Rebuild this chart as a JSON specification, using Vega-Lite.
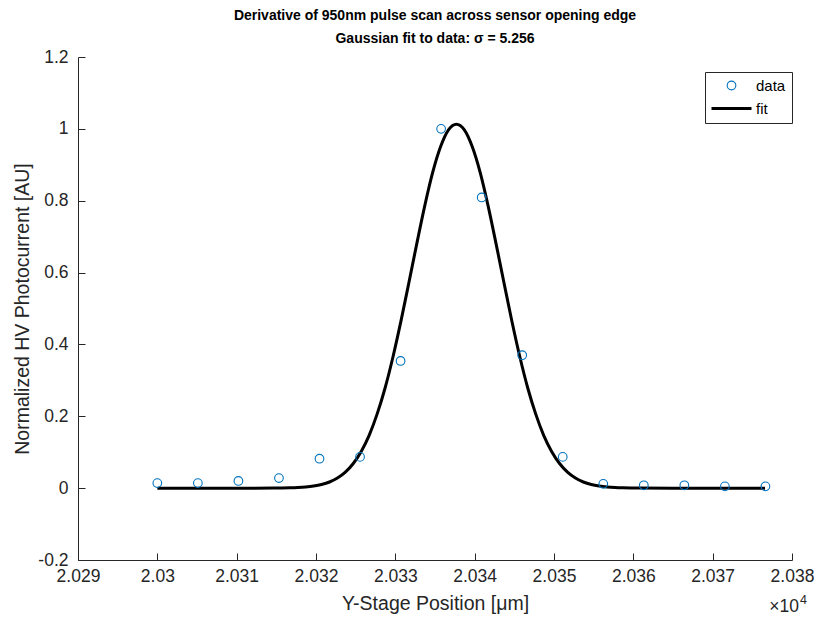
{
  "$schema": "https://vega.github.io/schema/vega-lite/v6.json",
  "width": 714,
  "height": 503,
  "autosize": {"type": "none"},
  "padding": {"left": 78, "top": 57, "right": 40, "bottom": 59},
  "background": "white",
  "config": {
    "view": {"stroke": null},
    "font": "Liberation Sans",
    "axis": {
      "domainColor": "#262626",
      "tickColor": "#262626",
      "labelColor": "#262626",
      "titleColor": "#262626",
      "labelFont": "Liberation Sans",
      "titleFont": "Liberation Sans",
      "labelFontSize": 17.5,
      "titleFontSize": 19.5,
      "titleFontWeight": "normal",
      "grid": false,
      "tickSize": -7,
      "domainWidth": 1,
      "tickWidth": 1
    },
    "legend": {
      "title": null,
      "orient": "none",
      "legendX": 627,
      "legendY": 15,
      "strokeColor": "#262626",
      "fillColor": "white",
      "padding": 6,
      "labelFontSize": 15,
      "labelColor": "#000000",
      "labelFont": "Liberation Sans",
      "rowPadding": 7,
      "symbolOffset": 13,
      "labelOffset": 17
    }
  },
  "title": {
    "text": ["Derivative of 950nm pulse scan across sensor opening edge", "Gaussian fit to data: σ = 5.256"],
    "fontSize": 14,
    "fontWeight": "bold",
    "font": "Liberation Sans",
    "color": "#000000",
    "anchor": "middle",
    "lineHeight": 23,
    "offset": 2
  },
  "datasets": {
    "fit": [
      {"x": 20300, "y": 0, "series": "fit"},
      {"x": 20310, "y": 0, "series": "fit"},
      {"x": 20314.7, "y": 0.0002, "series": "fit"},
      {"x": 20315.7, "y": 0.0005, "series": "fit"},
      {"x": 20316.7, "y": 0.0009, "series": "fit"},
      {"x": 20317.7, "y": 0.0017, "series": "fit"},
      {"x": 20318.7, "y": 0.0032, "series": "fit"},
      {"x": 20319.7, "y": 0.0058, "series": "fit"},
      {"x": 20320.7, "y": 0.0101, "series": "fit"},
      {"x": 20321.7, "y": 0.0171, "series": "fit"},
      {"x": 20322.7, "y": 0.028, "series": "fit"},
      {"x": 20323.7, "y": 0.0445, "series": "fit"},
      {"x": 20324.7, "y": 0.0685, "series": "fit"},
      {"x": 20325.7, "y": 0.102, "series": "fit"},
      {"x": 20326.7, "y": 0.147, "series": "fit"},
      {"x": 20327.7, "y": 0.206, "series": "fit"},
      {"x": 20328.7, "y": 0.278, "series": "fit"},
      {"x": 20329.7, "y": 0.365, "series": "fit"},
      {"x": 20330.7, "y": 0.464, "series": "fit"},
      {"x": 20331.7, "y": 0.571, "series": "fit"},
      {"x": 20332.7, "y": 0.68, "series": "fit"},
      {"x": 20333.7, "y": 0.785, "series": "fit"},
      {"x": 20334.7, "y": 0.878, "series": "fit"},
      {"x": 20335.7, "y": 0.95, "series": "fit"},
      {"x": 20336.7, "y": 0.997, "series": "fit"},
      {"x": 20337.7, "y": 1.013, "series": "fit"},
      {"x": 20338.7, "y": 0.997, "series": "fit"},
      {"x": 20339.7, "y": 0.95, "series": "fit"},
      {"x": 20340.7, "y": 0.878, "series": "fit"},
      {"x": 20341.7, "y": 0.785, "series": "fit"},
      {"x": 20342.7, "y": 0.68, "series": "fit"},
      {"x": 20343.7, "y": 0.571, "series": "fit"},
      {"x": 20344.7, "y": 0.464, "series": "fit"},
      {"x": 20345.7, "y": 0.365, "series": "fit"},
      {"x": 20346.7, "y": 0.278, "series": "fit"},
      {"x": 20347.7, "y": 0.206, "series": "fit"},
      {"x": 20348.7, "y": 0.147, "series": "fit"},
      {"x": 20349.7, "y": 0.102, "series": "fit"},
      {"x": 20350.7, "y": 0.0685, "series": "fit"},
      {"x": 20351.7, "y": 0.0445, "series": "fit"},
      {"x": 20352.7, "y": 0.028, "series": "fit"},
      {"x": 20353.7, "y": 0.0171, "series": "fit"},
      {"x": 20354.7, "y": 0.0101, "series": "fit"},
      {"x": 20355.7, "y": 0.0058, "series": "fit"},
      {"x": 20356.7, "y": 0.0032, "series": "fit"},
      {"x": 20357.7, "y": 0.0017, "series": "fit"},
      {"x": 20358.7, "y": 0.0009, "series": "fit"},
      {"x": 20359.7, "y": 0.0005, "series": "fit"},
      {"x": 20360.7, "y": 0.0002, "series": "fit"},
      {"x": 20365, "y": 0, "series": "fit"},
      {"x": 20370, "y": 0, "series": "fit"},
      {"x": 20376.6, "y": 0, "series": "fit"}
    ],
    "data": [
      {"x": 20300, "y": 0.014, "series": "data"},
      {"x": 20305.11, "y": 0.014, "series": "data"},
      {"x": 20310.22, "y": 0.02, "series": "data"},
      {"x": 20315.33, "y": 0.028, "series": "data"},
      {"x": 20320.44, "y": 0.082, "series": "data"},
      {"x": 20325.55, "y": 0.087, "series": "data"},
      {"x": 20330.66, "y": 0.354, "series": "data"},
      {"x": 20335.77, "y": 1.0, "series": "data"},
      {"x": 20340.88, "y": 0.809, "series": "data"},
      {"x": 20345.99, "y": 0.37, "series": "data"},
      {"x": 20351.1, "y": 0.087, "series": "data"},
      {"x": 20356.21, "y": 0.012, "series": "data"},
      {"x": 20361.32, "y": 0.008, "series": "data"},
      {"x": 20366.43, "y": 0.008, "series": "data"},
      {"x": 20371.54, "y": 0.005, "series": "data"},
      {"x": 20376.65, "y": 0.005, "series": "data"}
    ],
    "note": [
      {"x": 20380, "y": -0.2, "base": "×10", "exp": "4"}
    ]
  },
  "encoding": {
    "x": {
      "field": "x",
      "type": "quantitative",
      "scale": {"domain": [20290, 20380], "nice": false, "zero": false},
      "axis": {
        "title": "Y-Stage Position [μm]",
        "values": [20290, 20300, 20310, 20320, 20330, 20340, 20350, 20360, 20370, 20380],
        "labelExpr": "format(datum.value/10000, '.3~f')",
        "labelPadding": 14,
        "titlePadding": 10,
        "labelFlush": false,
        "labelOverlap": false
      }
    },
    "y": {
      "field": "y",
      "type": "quantitative",
      "scale": {"domain": [-0.2, 1.2], "nice": false, "zero": false},
      "axis": {
        "title": "Normalized HV Photocurrent [AU]",
        "values": [-0.2, 0, 0.2, 0.4, 0.6, 0.8, 1.0, 1.2],
        "labelExpr": "toString(round(datum.value*10)/10)",
        "labelPadding": 17,
        "titlePadding": 5,
        "labelFlush": false,
        "labelOverlap": false
      }
    }
  },
  "layer": [
    {
      "data": {"name": "fit"},
      "mark": {"type": "line", "strokeWidth": 3, "interpolate": "monotone"},
      "encoding": {
        "color": {
          "field": "series",
          "type": "nominal",
          "scale": {"domain": ["data", "fit"], "range": ["#0072BD", "#000000"]},
          "legend": {
            "rowPadding": 7,
            "encode": {
              "symbols": {
                "update": {
                  "size": {"signal": "datum.value === 'fit' ? 1600 : 75"},
                  "strokeWidth": {"signal": "datum.value === 'fit' ? 3 : 1.1"}
                }
              }
            }
          }
        }
      }
    },
    {
      "data": {"name": "data"},
      "mark": {"type": "point", "filled": false, "size": 75, "strokeWidth": 1.1, "opacity": 1},
      "encoding": {
        "color": {
          "field": "series",
          "type": "nominal",
          "scale": {"domain": ["data", "fit"], "range": ["#0072BD", "#000000"]},
          "legend": {
            "rowPadding": 7,
            "encode": {
              "symbols": {
                "update": {
                  "size": {"signal": "datum.value === 'fit' ? 1600 : 75"},
                  "strokeWidth": {"signal": "datum.value === 'fit' ? 3 : 1.1"}
                }
              }
            }
          }
        },
        "shape": {
          "field": "series",
          "type": "nominal",
          "scale": {"domain": ["data", "fit"], "range": ["circle", "M-1,0L1,0"]},
          "legend": {
            "rowPadding": 7,
            "encode": {
              "symbols": {
                "update": {
                  "size": {"signal": "datum.value === 'fit' ? 1600 : 75"},
                  "strokeWidth": {"signal": "datum.value === 'fit' ? 3 : 1.1"}
                }
              }
            }
          }
        }
      }
    },
    {
      "data": {"name": "note"},
      "mark": {"type": "text", "font": "Liberation Sans", "fontSize": 17.5, "color": "#262626", "align": "right", "baseline": "middle", "dy": 47, "dx": 7},
      "encoding": {
        "text": {"field": "base"}
      }
    },
    {
      "data": {"name": "note"},
      "mark": {"type": "text", "font": "Liberation Sans", "fontSize": 12.5, "color": "#262626", "align": "left", "baseline": "middle", "dy": 40, "dx": 8},
      "encoding": {
        "text": {"field": "exp"}
      }
    }
  ]
}
